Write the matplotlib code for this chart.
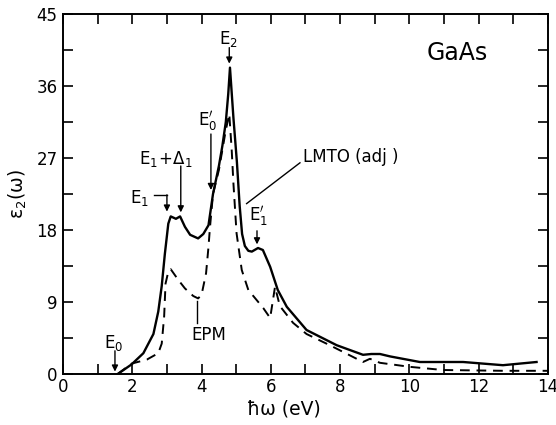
import matplotlib
matplotlib.use("Agg")
import matplotlib.pyplot as plt
from matplotlib.ticker import MultipleLocator

plt.rcParams['font.family'] = ['DejaVu Sans']
plt.rcParams['mathtext.fontset'] = 'dejavusans'

# LMTO (adj) -- solid
lmto_x = [1.58, 1.98, 2.32, 2.61, 2.75, 2.85, 2.94, 3.04, 3.11, 3.26, 3.38, 3.52, 3.67, 3.9,
          4.05, 4.2, 4.33, 4.5, 4.6, 4.7, 4.77, 4.82, 4.92, 5.02, 5.1, 5.17, 5.25, 5.35, 5.45,
          5.63, 5.77, 5.98, 6.2, 6.46, 7.03, 7.9, 8.66, 8.9, 9.15, 9.44, 10.3, 11.55, 12.7, 13.67]
lmto_y = [0.0, 1.2, 2.6, 5.0, 7.8, 11.0, 15.0, 18.8, 19.7, 19.4, 19.7, 18.4, 17.4, 16.95,
          17.5, 18.6, 22.5, 26.0, 28.5, 31.5, 35.0, 38.3, 32.0, 26.5, 21.0, 17.5, 16.0, 15.4, 15.3,
          15.75, 15.5, 13.4, 10.5, 8.4, 5.5, 3.6, 2.4, 2.5, 2.5, 2.2, 1.5, 1.5, 1.1, 1.5]

# EPM -- dashed
epm_x = [1.58, 1.98, 2.42, 2.75, 2.85, 2.92, 2.96, 3.04, 3.11, 3.33, 3.52, 3.76, 3.9, 4.0,
         4.13, 4.2, 4.24, 4.33, 4.5, 4.6, 4.7, 4.8, 4.87, 4.92, 5.01, 5.16, 5.35, 5.78, 5.98,
         6.12, 6.26, 6.64, 7.03, 7.7, 8.66, 8.86, 9.15, 10.0, 10.97, 12.7, 14.0]
epm_y = [0.0, 1.3, 1.8, 2.6, 3.8, 7.2, 11.3, 12.8, 13.1, 11.75, 10.7, 9.75, 9.45, 9.9,
         12.6, 15.9, 18.2, 22.5, 25.5, 28.0, 30.5, 32.5, 28.0, 23.8, 17.6, 13.0, 10.5, 8.25, 7.0,
         10.9, 8.5, 6.4, 5.0, 3.6, 1.5, 1.9, 1.4, 0.9, 0.5, 0.4, 0.4]

x_ticks = [0, 2, 4, 6, 8, 10, 12, 14]
y_ticks = [0, 9, 18, 27, 36, 45]

fig = plt.figure(figsize=(5.56, 4.25), dpi=100)
ax = fig.add_axes([0.1133, 0.12, 0.8723, 0.847])

ax.plot(lmto_x, lmto_y, color='black', lw=1.7, solid_joinstyle='round')
ax.plot(epm_x, epm_y, color='black', lw=1.4, dashes=(5, 3.5))

ax.set_xlim(0, 14)
ax.set_ylim(0, 45)
ax.set_xticks(x_ticks)
ax.set_yticks(y_ticks)
ax.xaxis.set_minor_locator(MultipleLocator(1))
ax.yaxis.set_minor_locator(MultipleLocator(4.5))
ax.tick_params(which='both', direction='in', top=True, right=True, length=7, width=1.2,
               labelsize=12, pad=4)
ax.tick_params(axis='x', pad=3)
for s in ax.spines.values():
    s.set_linewidth(1.4)

ax.set_xlabel('ħω (eV)', fontsize=13.5)
ax.xaxis.set_label_coords(0.455, -0.072)
ax.set_ylabel('ε$_2$(ω)', fontsize=13.5)
ax.yaxis.set_label_coords(-0.07, 0.5)

ax.text(10.5, 40.1, 'GaAs', fontsize=17, ha='left', va='center')

fs = 12
arrow = dict(arrowstyle='-|>', color='black', lw=1.0, mutation_scale=9, shrinkA=0, shrinkB=0)

ax.text(4.77, 41.9, r'$\mathrm{E_2}$', fontsize=fs, ha='center', va='center')
ax.annotate('', xy=(4.8, 38.8), xytext=(4.8, 40.8), arrowprops=arrow)

ax.text(4.17, 31.6, r"$\mathrm{E_0^{\prime}}$", fontsize=fs, ha='center', va='center')
ax.annotate('', xy=(4.27, 23.0), xytext=(4.27, 30.0), arrowprops=arrow)

ax.text(2.98, 26.9, r'$\mathrm{E_1\!+\!\Delta_1}$', fontsize=fs, ha='center', va='center')
ax.annotate('', xy=(3.4, 20.2), xytext=(3.4, 26.0), arrowprops=arrow)

ax.text(2.22, 22.0, r'$\mathrm{E_1}$', fontsize=fs, ha='center', va='center')
ax.plot([2.62, 3.0], [22.4, 22.4], color='black', lw=1.0)
ax.annotate('', xy=(3.0, 20.3), xytext=(3.0, 22.4), arrowprops=arrow)

ax.text(5.63, 19.7, r"$\mathrm{E_1^{\prime}}$", fontsize=fs, ha='center', va='center')
ax.annotate('', xy=(5.6, 16.2), xytext=(5.6, 17.9), arrowprops=arrow)

ax.text(1.47, 3.9, r'$\mathrm{E_0}$', fontsize=fs, ha='center', va='center')
ax.annotate('', xy=(1.5, 0.3), xytext=(1.5, 2.9), arrowprops=arrow)

ax.text(4.2, 4.9, 'EPM', fontsize=fs, ha='center', va='center')
ax.plot([3.87, 3.87], [6.4, 9.1], color='black', lw=1.0)

ax.text(6.93, 27.1, 'LMTO (adj )', fontsize=fs, ha='left', va='center')
ax.plot([5.3, 6.84], [21.3, 26.4], color='black', lw=1.0)

fig.savefig('out.png', dpi=100)
